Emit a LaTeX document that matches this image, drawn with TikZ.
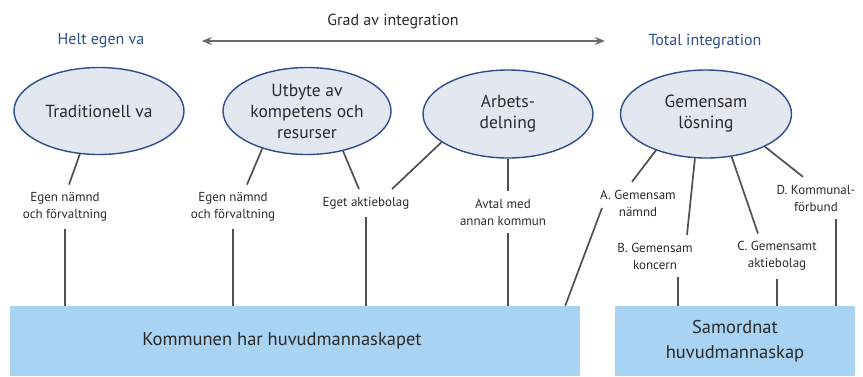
\documentclass[tikz,border=0pt]{standalone}
\usepackage{fontspec}
\setmainfont{PT Sans}
\usetikzlibrary{arrows.meta,shapes.geometric}
\definecolor{rim}{HTML}{2D4E8E}
\definecolor{oval}{HTML}{E2E7F0}
\definecolor{base}{HTML}{A8D3F2}
\definecolor{ink}{HTML}{2A2A2A}
\definecolor{wire}{HTML}{505050}
\tikzset{
  form/.style={ellipse, draw=rim, fill=oval, line width=1.4pt, align=center,
    inner sep=0pt, text=ink, font=\fontsize{17.5}{21}\selectfont},
  tag/.style={align=center, text=ink, inner sep=3pt, outer sep=5pt,
    font=\fontsize{13}{17}\selectfont},
  head/.style={text=rim, font=\fontsize{16}{18}\selectfont},
  ground/.style={fill=base, align=center, text=ink, inner sep=0pt,
    font=\fontsize{18.5}{25}\selectfont},
  tie/.style={draw=wire, line width=1.7pt},
  span/.style={{Stealth[length=10pt,width=8pt]}-{Stealth[length=10pt,width=8pt]},
    draw=wire!85, line width=2.4pt},
}

\begin{document}
\begin{tikzpicture}[x=1pt, y=-1pt]
    \useasboundingbox (0,0) rectangle (863,376);

    % scale at the top
    \node[text=ink, font=\fontsize{16}{18}\selectfont] (grad) at (393,21) {Grad av integration};
    \node[head] (helt) at (101,41) {Helt egen va};
    \node[head] (total) at (705,42) {Total integration};
    \draw[span, shorten <=54pt, shorten >=40pt] (helt.east) -- (helt.east -| total.west);

    % the four forms
    \node[form, minimum width=170pt, minimum height=87pt] (trad) at (99,111) {Traditionell va};
    \node[form, minimum width=168pt, minimum height=87pt] (utb) at (307,111) {Utbyte av\\kompetens och\\resurser};
    \node[form, minimum width=170pt, minimum height=88pt] (arb) at (508,114) {Arbets-\\delning};
    \node[form, minimum width=171pt, minimum height=88pt] (gem) at (706,114) {Gemensam\\lösning};

    % organisational forms
    \node[tag] (nf1) at (65,207) {Egen nämnd\\och förvaltning};
    \node[tag] (nf2) at (233,207) {Egen nämnd\\och förvaltning};
    \node[tag] (ab) at (366,203) {Eget aktiebolag};
    \node[tag] (avt) at (503,212) {Avtal med\\annan kommun};
    \node[tag] (ga) at (638,203) {A. Gemensam\\nämnd};
    \node[tag] (gb) at (655,256) {B. Gemensam\\koncern};
    \node[tag] (gc) at (777,256) {C. Gemensamt\\aktiebolag};
    \node[tag] (gd) at (816,198) {D. Kommunal-\\förbund};

    % who is in charge
    \node[ground, minimum width=570pt, minimum height=70pt] (kom) at (295,341) {\hspace*{-26pt}Kommunen har huvudmannaskapet};
    \node[ground, minimum width=240pt, minimum height=70pt] (sam) at (735,341) {Samordnat\\huvudmannaskap};

    \draw[tie] (trad.246) -- ([xshift=4pt]nf1.north);
    \draw[tie] (utb.220) -- ([xshift=14pt]nf2.north);
    \draw[tie] (utb.312) -- ([xshift=-7pt]ab.north);
    \draw[tie] (arb.203) -- ([xshift=26pt]ab.north);
    \draw[tie] (arb.south) -- (arb.south |- avt.north);
    \draw[tie] (gem.216) -- ([xshift=-6pt]ga.north);
    \draw[tie] (gem.256) -- ([xshift=32pt]gb.north);
    \draw[tie] (gem.301) -- ([xshift=-19pt]gc.north);
    \draw[tie] (gem.331) -- ([xshift=-13pt]gd.north);

    \draw[tie] (nf1.south) -- (nf1.south |- kom.north);
    \draw[tie] (nf2.south) -- (nf2.south |- kom.north);
    \draw[tie] (ab.south) -- (ab.south |- kom.north);
    \draw[tie] (arb.south |- avt.south) -- (arb.south |- kom.north);
    \draw[tie] ([xshift=-36pt,yshift=-5pt]ga.center) -- ([xshift=-15pt]kom.north east);
    \draw[tie] ([xshift=23pt]gb.south) -- ([xshift=23pt]gb.south |- sam.north);
    \draw[tie] (gc.south) -- (gc.south |- sam.north);
    \draw[tie] ([xshift=20pt]gd.south) -- ([xshift=20pt]gd.south |- sam.north);
\end{tikzpicture}
\end{document}
